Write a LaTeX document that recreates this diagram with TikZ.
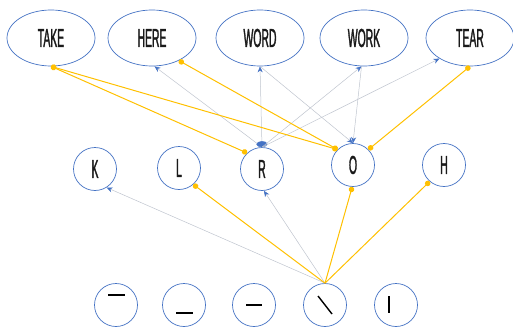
\documentclass[tikz,border=0pt]{standalone}
\usepackage{fontspec}
\setmainfont{Liberation Sans}[FakeStretch=0.4,FakeBold=1.2]
\usetikzlibrary{shapes.geometric,arrows.meta}
\definecolor{nodeblue}{HTML}{4472C4}
\definecolor{linkyel}{HTML}{FFC000}
\definecolor{linkgray}{HTML}{BFC4CE}
\definecolor{txtblack}{HTML}{1A1A1A}
\tikzset{
  wordnode/.style={ellipse,draw=nodeblue,line width=0.7pt,fill=white,text=txtblack,minimum width=88pt,minimum height=56pt,inner sep=0pt,font=\fontsize{26}{26}\selectfont},
  letnode/.style={circle,draw=nodeblue,line width=0.7pt,fill=white,text=txtblack,minimum size=43pt,inner sep=0pt,font=\fontsize{26}{26}\selectfont},
  strokenode/.style={circle,draw=nodeblue,line width=0.7pt,fill=white,minimum size=43pt,inner sep=0pt},
  yel/.style={draw=linkyel,line width=1pt,{Circle[length=5.5pt,fill=linkyel]}-{Circle[length=5.5pt,fill=linkyel]}},
  yelone/.style={draw=linkyel,line width=1pt,-{Circle[length=5.5pt,fill=linkyel]}},
  gry/.style={draw=linkgray,line width=0.5pt,-{Stealth[length=6pt,width=5pt,color=nodeblue]}},
  stroke/.style={line width=1.4pt,black}
}
\begin{document}
\begin{tikzpicture}[x=1pt,y=-1pt]
\useasboundingbox (0,0) rectangle (513,329);
% top words
\node[wordnode] (take) at (51,38) {TAKE};
\node[wordnode] (here) at (152,38) {HERE};
\node[wordnode] (word) at (260,38) {WORD};
\node[wordnode] (work) at (364,38) {WORK};
\node[wordnode] (tear) at (470,38) {TEAR};
% middle letters
\node[letnode] (k) at (95,169) {K};
\node[letnode] (l) at (179,168) {L};
\node[letnode] (r) at (262,169) {R};
\node[letnode] (o) at (353,165) {O};
\node[letnode] (h) at (444,165) {H};
% bottom strokes
\node[strokenode] (s1) at (116,305) {};
\node[strokenode] (s2) at (184,305) {};
\node[strokenode] (s3) at (254,305) {};
\node[strokenode] (s4) at (325,305) {};
\node[strokenode] (s5) at (396,305) {};
\draw[stroke] ([shift={(-8,-10)}]s1.center) -- ([shift={(9,-10)}]s1.center);
\draw[stroke] ([shift={(-8,8)}]s2.center) -- ([shift={(9,8)}]s2.center);
\draw[stroke] ([shift={(-8,0)}]s3.center) -- ([shift={(8,0)}]s3.center);
\draw[stroke] ([shift={(-7,-9)}]s4.center) -- ([shift={(7,9)}]s4.center);
\draw[stroke] ([shift={(-7,-9)}]s5.center) -- ([shift={(-7,8)}]s5.center);
% gray arrows
\draw[gry] (r.north) -- (here.275);
\draw[draw=linkgray,line width=0.5pt,{Ellipse[length=6pt,width=11pt,color=nodeblue]}-{Stealth[length=6pt,width=5pt,color=nodeblue]}] (r.north) -- (word.south);
\draw[gry] (r.north) -- (work.265);
\draw[gry] (r.north) -- (tear.214);
\draw[gry] (word.south) -- (o.north);
\draw[gry] (work.265) -- (o.north);
\draw[gry] (s4.north) -- (k.302);
\draw[gry] (s4.north) -- (r.275);
% yellow links
\draw[yel] (take.south) -- (r.133);
\draw[yel] (take.south) -- (o.135);
\draw[yel] (here.320) -- (o.135);
\draw[yel] (tear.south) -- (o.45);
\draw[yelone] (s4.north) -- (l.311);
\draw[yelone] (s4.north) -- (o.268);
\draw[yelone] (s4.north) -- (h.229);
\end{tikzpicture}
\end{document}
